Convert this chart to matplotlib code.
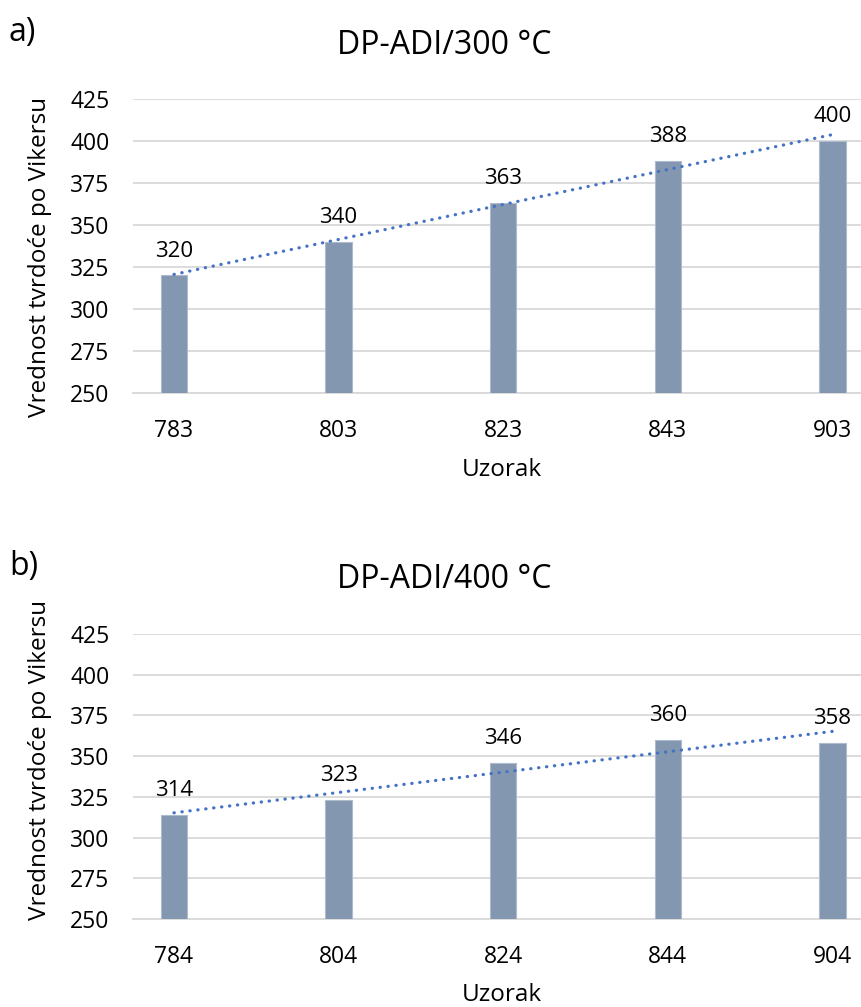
import matplotlib
matplotlib.use("Agg")
import matplotlib.pyplot as plt
import numpy as np

plt.rcParams['font.family'] = ['Open Sans', 'DejaVu Sans']

samples_a = ["783", "803", "823", "843", "903"]
values_a = [320, 340, 363, 388, 400]
title_a = "DP-ADI/300 °C"

samples_b = ["784", "804", "824", "844", "904"]
values_b = [314, 323, 346, 360, 358]
title_b = "DP-ADI/400 °C"

yticks = [250, 275, 300, 325, 350, 375, 400, 425]
ylabel = "Vrednost tvrdoće po Vikersu"
xlabel = "Uzorak"

W, H = 862, 1007
fig = plt.figure(figsize=(W / 100, H / 100), dpi=100)

bar_color = "#8497B0"
trend_color = "#4472C4"
grid_color = "#D9D9D9"


def draw(ax, cats, vals, title, title_y, ylab_y, xlab_y):
    x = np.arange(len(cats))
    ax.bar(x, vals, width=0.16, color=bar_color, edgecolor="#AEBBCC",
           linewidth=0.8, zorder=3)
    ax.set_ylim(250, 425)
    ax.set_xlim(-0.249, 4.18)
    ax.set_yticks(yticks)
    ax.set_xticks(x)
    ax.set_xticklabels(cats)
    ax.yaxis.grid(True, color=grid_color, linewidth=1.3, zorder=0)
    ax.set_axisbelow(True)
    for s in ["top", "right", "left"]:
        ax.spines[s].set_visible(False)
    ax.spines["bottom"].set_color(grid_color)
    ax.spines["bottom"].set_linewidth(1.3)
    ax.tick_params(axis="y", length=0, pad=17, labelsize=16.5)
    ax.tick_params(axis="x", length=0, pad=19, labelsize=16.5)
    # linear trendline
    xs = np.arange(1, len(vals) + 1)
    k, b = np.polyfit(xs, vals, 1)
    ax.plot(x, k * xs + b, color=trend_color, linewidth=2.3,
            linestyle=(0, (0.1, 2.4)), dash_capstyle="round", zorder=4)
    for xi, v in zip(x, vals):
        ax.annotate(str(v), (xi, v), xytext=(0, 13.5), textcoords="offset points",
                    ha="center", va="baseline", fontsize=16, zorder=5)
    fig.text(444 / W, 1 - title_y / H, title, fontsize=23, ha="center", va="center")
    ax.set_xlabel(xlabel, fontsize=17.5)
    ax.xaxis.set_label_coords(502 / W, 1 - xlab_y / H, transform=fig.transFigure)
    ax.xaxis.label.set_va("center")
    ax.set_ylabel(ylabel, fontsize=17.5)
    ax.yaxis.set_label_coords(40 / W, 1 - ylab_y / H, transform=fig.transFigure)
    ax.yaxis.label.set_va("center")


left = 133 / W
width = 1 - left
ax1 = fig.add_axes([left, 1 - 393 / H, width, 294 / H])
ax2 = fig.add_axes([left, 1 - 919 / H, width, 285 / H])
draw(ax1, samples_a, values_a, title_a, 45, 257, 470)
draw(ax2, samples_b, values_b, title_b, 580, 760, 995)

fig.text(9 / W, 1 - 33 / H, "a)", fontsize=23, va="center", ha="left")
fig.text(9 / W, 1 - 567 / H, "b)", fontsize=23, va="center", ha="left")

fig.savefig("out.png", dpi=100)
